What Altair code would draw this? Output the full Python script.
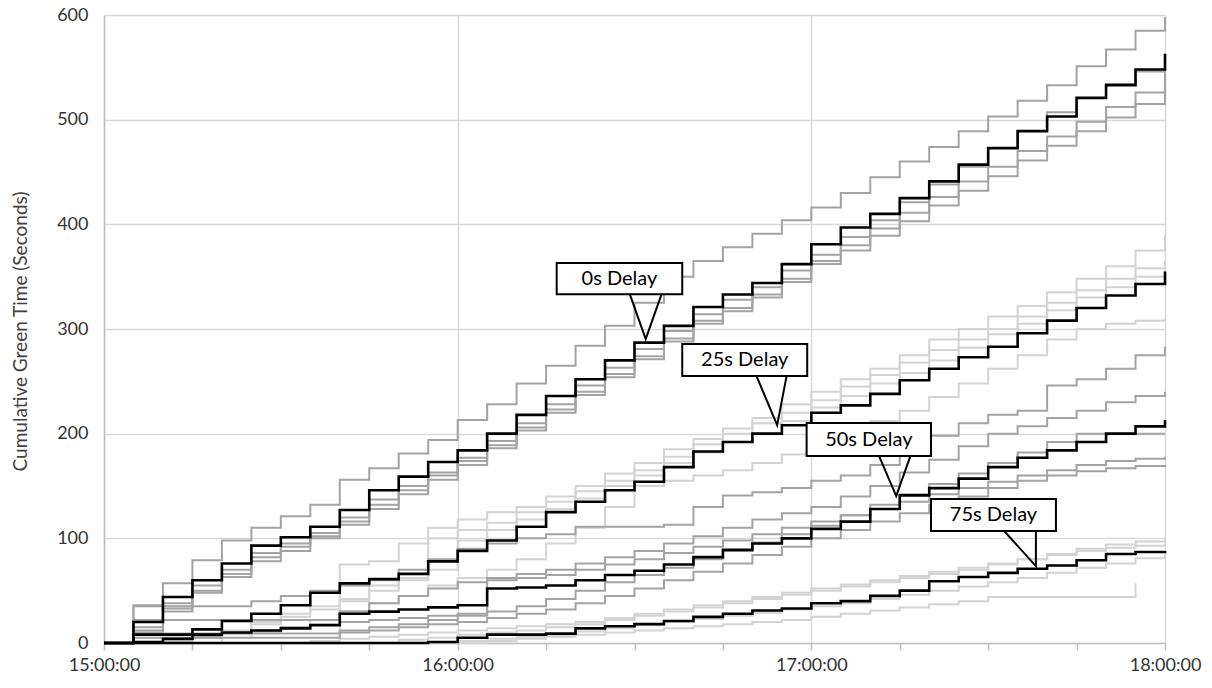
import json
import altair as alt
import pandas as pd

# ---------------- data ----------------
MINUTES = list(range(0, 181, 5))          # minutes after 15:00:00
HOUR_TICKS = [0, 60, 120, 180]
HOUR_LABELS = ["15:00:00", "16:00:00", "17:00:00", "18:00:00"]
MINOR_TICKS = list(range(0, 181, 15))
Y_TICKS = [0, 100, 200, 300, 400, 500, 600]

# 0s delay
B0 = [0, 20, 44, 60, 76, 93, 101, 111, 127, 146, 159, 173, 184, 200, 218, 236, 252, 270, 287, 303,
      321, 333, 344, 362, 381, 397, 410, 425, 441, 457, 473, 489, 503, 521, 533, 548, 563]
G0A = [0, 36, 57, 79, 98, 110, 121, 132, 156, 167, 181, 194, 213, 228, 248, 265, 284, 303, 325, 350,
       365, 378, 391, 404, 416, 430, 445, 460, 474, 489, 503, 518, 533, 551, 567, 585, 598]
G0B = [0, 15, 38, 55, 70, 86, 95, 105, 120, 137, 150, 163, 177, 193, 210, 228, 246, 263, 281, 298,
       314, 328, 340, 356, 371, 388, 404, 421, 438, 455, 472, 490, 507, 520, 534, 546, 558]
G0C = [0, 12, 33, 50, 66, 82, 92, 102, 116, 132, 146, 160, 174, 189, 206, 223, 240, 257, 274, 291,
       308, 320, 333, 348, 365, 380, 396, 411, 426, 441, 455, 470, 484, 498, 512, 526, 548]
G0D = [0, 10, 30, 48, 63, 78, 88, 100, 113, 128, 142, 156, 170, 186, 203, 220, 237, 254, 271, 288,
       305, 317, 330, 345, 362, 375, 389, 403, 418, 432, 446, 461, 475, 489, 502, 515, 547]

# 25s delay
B25 = [0, 1, 4, 13, 21, 28, 36, 48, 57, 61, 66, 78, 88, 98, 111, 125, 135, 146, 154, 168,
       183, 192, 200, 208, 220, 227, 238, 251, 262, 273, 283, 296, 308, 320, 332, 343, 355]
LG25A = [0, 0, 0, 0, 0, 0, 0, 0, 75, 78, 95, 110, 118, 125, 130, 140, 150, 162, 172, 185,
         195, 205, 215, 228, 240, 252, 262, 275, 290, 300, 312, 322, 335, 348, 360, 375, 390]
LG25B = [0, 0, 2, 5, 12, 20, 28, 35, 42, 50, 60, 100, 108, 115, 125, 135, 145, 155, 165, 178,
         190, 200, 210, 220, 232, 245, 256, 268, 280, 290, 300, 312, 325, 337, 348, 358, 365]
LG25C = [0, 0, 0, 5, 10, 18, 25, 32, 40, 55, 62, 70, 98, 108, 118, 128, 138, 150, 160, 172,
         182, 192, 200, 212, 225, 236, 248, 258, 270, 282, 295, 305, 318, 330, 340, 350, 360]
LG25D = [0, 0, 0, 0, 5, 10, 15, 22, 30, 38, 45, 55, 62, 70, 80, 95, 110, 130, 150, 155,
         160, 165, 172, 180, 188, 200, 212, 222, 235, 248, 262, 275, 290, 300, 305, 308, 310]

# 50s delay
B50 = [0, 8, 8, 8, 10, 12, 14, 17, 28, 30, 32, 34, 36, 52, 53, 55, 60, 65, 69, 75,
       82, 89, 95, 100, 109, 116, 128, 141, 148, 157, 168, 177, 184, 192, 200, 207, 213]
MG50A = [0, 35, 35, 35, 35, 40, 45, 50, 55, 60, 70, 80, 90, 95, 100, 104, 111, 111, 111, 113,
         130, 141, 144, 148, 155, 160, 170, 185, 198, 210, 218, 222, 246, 252, 262, 275, 283]
MG50B = [0, 22, 22, 22, 22, 22, 22, 22, 30, 38, 45, 52, 58, 62, 66, 70, 76, 82, 88, 95,
         102, 110, 118, 124, 130, 140, 150, 163, 175, 188, 200, 207, 215, 222, 230, 236, 240]
MG50C = [0, 9, 9, 9, 9, 9, 9, 9, 12, 15, 18, 22, 26, 30, 35, 42, 50, 58, 65, 72,
         80, 88, 96, 104, 112, 122, 132, 142, 152, 162, 172, 182, 192, 200, 200, 200, 200]
MG50D = [0, 0, 3, 6, 9, 12, 15, 18, 20, 22, 24, 26, 28, 60, 62, 65, 70, 75, 80, 86,
         92, 98, 104, 110, 116, 122, 128, 135, 142, 148, 154, 160, 165, 170, 174, 176, 178]
MG50E = [0, 5, 5, 5, 5, 5, 5, 5, 10, 12, 15, 18, 20, 24, 28, 32, 38, 45, 52, 60,
         68, 76, 84, 92, 100, 108, 116, 124, 132, 140, 148, 155, 160, 164, 167, 169, 170]

# 75s delay
B75 = [0, 0, 0, 0, 0, 0, 0, 0, 0, 0, 0, 1, 5, 8, 8, 9, 14, 16, 18, 21,
       25, 28, 31, 33, 38, 40, 45, 50, 59, 63, 67, 71, 74, 79, 85, 87, 88]
LG75A = [0, 0, 0, 0, 0, 0, 0, 0, 0, 0, 3, 5, 8, 10, 12, 15, 18, 22, 26, 30,
         34, 38, 42, 46, 50, 54, 58, 62, 66, 70, 75, 80, 85, 90, 94, 97, 100]
LG75B = [0, 0, 0, 0, 0, 0, 0, 2, 4, 6, 8, 10, 12, 14, 16, 18, 20, 24, 28, 32,
         36, 40, 44, 48, 52, 56, 60, 64, 68, 72, 76, 80, 84, 88, 91, 93, 95]
LG75C = [0, 0, 0, 0, 0, 0, 0, 0, 0, 0, 0, 0, 2, 4, 6, 8, 11, 14, 17, 20,
         23, 26, 29, 32, 35, 38, 42, 46, 50, 54, 58, 62, 67, 72, 76, 81, 85]
LG75D = [0, 0, 0, 0, 0, 0, 0, 0, 0, 0, 0, 0, 0, 2, 4, 6, 8, 10, 12, 14,
         16, 18, 20, 22, 25, 28, 31, 34, 37, 40, 44, 44, 44, 44, 44, 57, None]

SERIES = [
    ("G0A", "mid", G0A), ("G0B", "mid", G0B), ("G0C", "mid", G0C), ("G0D", "mid", G0D),
    ("LG25A", "light", LG25A), ("LG25B", "light", LG25B), ("LG25C", "light", LG25C), ("LG25D", "light", LG25D),
    ("MG50A", "mid", MG50A), ("MG50B", "mid", MG50B), ("MG50C", "mid", MG50C), ("MG50D", "mid", MG50D),
    ("MG50E", "mid", MG50E),
    ("LG75A", "light", LG75A), ("LG75B", "light", LG75B), ("LG75C", "light", LG75C), ("LG75D", "light", LG75D),
    ("B0", "black", B0), ("B25", "black", B25), ("B50", "black", B50), ("B75", "black", B75),
]

# callouts
ANNOT_LABELS = ["0s Delay", "25s Delay", "50s Delay", "75s Delay"]
BOX_T0 = [76.8, 98.1, 119.2, 140.3]
BOX_T1 = [98.1, 119.3, 140.3, 161.5]
BOX_V_TOP = [363.0, 285.6, 210.1, 137.5]
BOX_V_BOT = [333.3, 255.0, 178.6, 107.0]
BASE_L_T = [89.2, 110.7, 131.5, 152.7]
BASE_R_T = [94.6, 115.8, 136.8, 158.1]
TIP_T = [91.9, 114.2, 134.4, 158.1]
TIP_V = [290.4, 208.2, 140.4, 73.5]

# ---------------- tables ----------------
rows = []
for name, style, vals in SERIES:
    for m, v in zip(MINUTES, vals):
        if v is not None:
            rows.append({"series": name, "style": style, "minute": m, "seconds": v})
lines_df = pd.DataFrame(rows)

box_df = pd.DataFrame({
    "label": ANNOT_LABELS,
    "minute": BOX_T0, "minute2": BOX_T1,
    "seconds": BOX_V_TOP, "seconds2": BOX_V_BOT,
    "cx": [(a + b) / 2 for a, b in zip(BOX_T0, BOX_T1)],
    "cy": [(a + b) / 2 for a, b in zip(BOX_V_TOP, BOX_V_BOT)],
})

wedge_rows = []
for i, lab in enumerate(ANNOT_LABELS):
    top = BOX_V_BOT[i] + 1.6
    wedge_rows.append({"label": lab, "k": 0, "minute": BASE_L_T[i], "seconds": BOX_V_BOT[i], "top": top})
    wedge_rows.append({"label": lab, "k": 1, "minute": TIP_T[i], "seconds": TIP_V[i], "top": top})
    wedge_rows.append({"label": lab, "k": 2, "minute": BASE_R_T[i], "seconds": BOX_V_BOT[i], "top": top})
wedge_df = pd.DataFrame(wedge_rows)

# ---------------- encodings ----------------
FONT = "Lato"
label_expr = "datum.value % 60 === 0 ? " + json.dumps(HOUR_LABELS) + "[datum.value / 60] : ''"

X_ENC = alt.X(
    "minute:Q",
    scale=alt.Scale(domain=[0, 180], nice=False, zero=False),
    axis=alt.Axis(
        values=MINOR_TICKS, labelExpr=label_expr, title=None,
        grid=True, gridColor="#d9d9d9", gridWidth=1.5,
        gridOpacity={"condition": {"test": "datum.value % 60 === 0", "value": 1}, "value": 0},
        tickColor="#bfbfbf", tickSize=7, tickWidth=1.5,
        domainColor="#bfbfbf", domainWidth=1.5,
        labelFont=FONT, labelFontSize=18, labelColor="#333333", labelPadding=6,
        labelFlush=False, labelOverlap=False,
    ),
)
Y_ENC = alt.Y(
    "seconds:Q",
    scale=alt.Scale(domain=[0, 600], nice=False),
    axis=alt.Axis(
        values=Y_TICKS, ticks=False, labelPadding=16,
        grid=True, gridColor="#d9d9d9", gridWidth=1.5,
        domainColor="#bfbfbf", domainWidth=1.5,
        labelFont=FONT, labelFontSize=18, labelColor="#333333",
        title="Cumulative Green Time (Seconds)", titleFont=FONT, titleFontSize=19,
        titleFontWeight="normal", titleColor="#404040",
        titleX=-84, titleY=316, titleAngle=-90, titleAlign="center", titleBaseline="middle",
    ),
)

base = alt.Chart(lines_df)
light = base.transform_filter(alt.datum.style == "light").mark_line(
    interpolate="step-after", color="#d3d3d3", strokeWidth=2
).encode(x=X_ENC, y=Y_ENC, detail="series:N")
mid = base.transform_filter(alt.datum.style == "mid").mark_line(
    interpolate="step-after", color="#a3a3a3", strokeWidth=2
).encode(x=X_ENC, y=Y_ENC, detail="series:N")
black = base.transform_filter(alt.datum.style == "black").mark_line(
    interpolate="step-after", color="#000000", strokeWidth=2.6
).encode(x=X_ENC, y=Y_ENC, detail="series:N")

boxes = alt.Chart(box_df).mark_rect(fill="white", stroke="black", strokeWidth=2).encode(
    x=X_ENC, x2="minute2:Q", y=Y_ENC, y2="seconds2:Q"
)
wedge_fill = alt.Chart(wedge_df).mark_area(color="white", opacity=1, interpolate="linear").encode(
    x=X_ENC, y=Y_ENC, y2="top:Q", detail="label:N", order="k:O"
)
wedge_line = alt.Chart(wedge_df).mark_line(color="black", strokeWidth=2).encode(
    x=X_ENC, y=Y_ENC, detail="label:N", order="k:O"
)
texts = alt.Chart(box_df).mark_text(font=FONT, fontSize=20, color="black").encode(
    x=alt.X("cx:Q"), y=alt.Y("cy:Q"), text="label:N"
)

chart = alt.layer(light, mid, black, boxes, wedge_fill, wedge_line, texts).properties(
    width=1061, height=628,
    autosize=alt.AutoSizeParams(type="none"),
    padding={"left": 104, "top": 15, "right": 47, "bottom": 45},
).configure_view(stroke=None).configure(font=FONT)

chart.save("out.html", embed_options={"renderer": "svg", "actions": False})
